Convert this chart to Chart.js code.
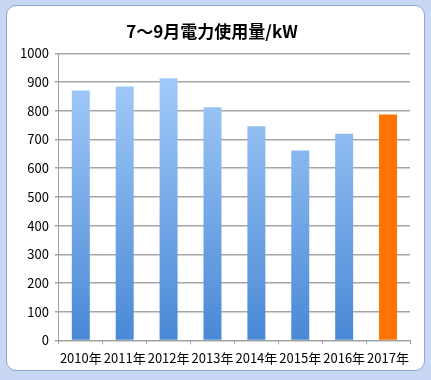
<!DOCTYPE html>
<html>
<head>
<meta charset="utf-8">
<script src="https://cdn.jsdelivr.net/npm/chart.js"></script>
<style>
  html, body { margin: 0; padding: 0; }
  body { width: 431px; height: 380px; background: #c8d8f4; position: relative; overflow: hidden; }
  #frame {
    position: absolute; left: 6px; top: 5px; width: 417px; height: 364px;
    background: #fff; border: 1px solid #8ca6da; border-radius: 10px;
  }
  #wrap { position: absolute; left: 0; top: 0; width: 431px; height: 380px; }
</style>
</head>
<body>
<div id="frame"></div>
<div id="wrap"><canvas id="myChart" width="431" height="380"></canvas></div>
<script>
const titleText = '7～9月電力使用量/kW';
const years = ['2010年', '2011年', '2012年', '2013年', '2014年', '2015年', '2016年', '2017年'];
const usage = [871, 885, 913, 812, 746, 662, 720, 787];
const yTicks = [0, 100, 200, 300, 400, 500, 600, 700, 800, 900, 1000];

const font = "'Noto Sans CJK JP', 'DejaVu Sans', sans-serif";

function barColor(context) {
    const chart = context.chart;
    const area = chart.chartArea;
    if (context.dataIndex === years.length - 1) {
        return '#ff7400';
    }
    if (!area) {
        return '#6fa6ea';
    }
    const g = chart.ctx.createLinearGradient(0, area.top, 0, area.bottom);
    g.addColorStop(0, '#aad0fc');
    g.addColorStop(1, '#4a89d6');
    return g;
}

const ctx = document.getElementById('myChart').getContext('2d');
const myChart = new Chart(ctx, {
    type: 'bar',
    data: {
        labels: years,
        datasets: [{
            data: usage,
            backgroundColor: barColor,
            borderWidth: 0,
            categoryPercentage: 1,
            barPercentage: 0.41
        }]
    },
    options: {
        responsive: false,
        animation: false,
        layout: { padding: { left: 14, right: 21, top: 17, bottom: 8 } },
        plugins: {
            legend: { display: false },
            tooltip: { enabled: false },
            title: {
                display: true,
                text: titleText,
                color: '#000',
                font: { family: font, size: 17, weight: 'bold' },
                padding: { top: 4, bottom: 12 }
            }
        },
        scales: {
            x: {
                grid: {
                    offset: true,
                    drawOnChartArea: false,
                    color: '#a0a0a0',
                    tickLength: 4
                },
                border: { color: '#a0a0a0' },
                ticks: {
                    color: '#000',
                    font: { family: font, size: 13 },
                    padding: 6,
                    maxRotation: 0,
                    autoSkip: false
                }
            },
            y: {
                min: 0,
                max: 1000,
                afterBuildTicks: axis => {
                    axis.ticks = yTicks.map(v => ({ value: v }));
                },
                grid: {
                    color: '#a6a6a6',
                    lineWidth: 1.5,
                    tickLength: 4
                },
                border: { color: '#a0a0a0' },
                ticks: {
                    color: '#000',
                    font: { family: font, size: 13 },
                    padding: 6,
                    callback: v => String(v)
                }
            }
        }
    }
});
</script>
</body>
</html>
